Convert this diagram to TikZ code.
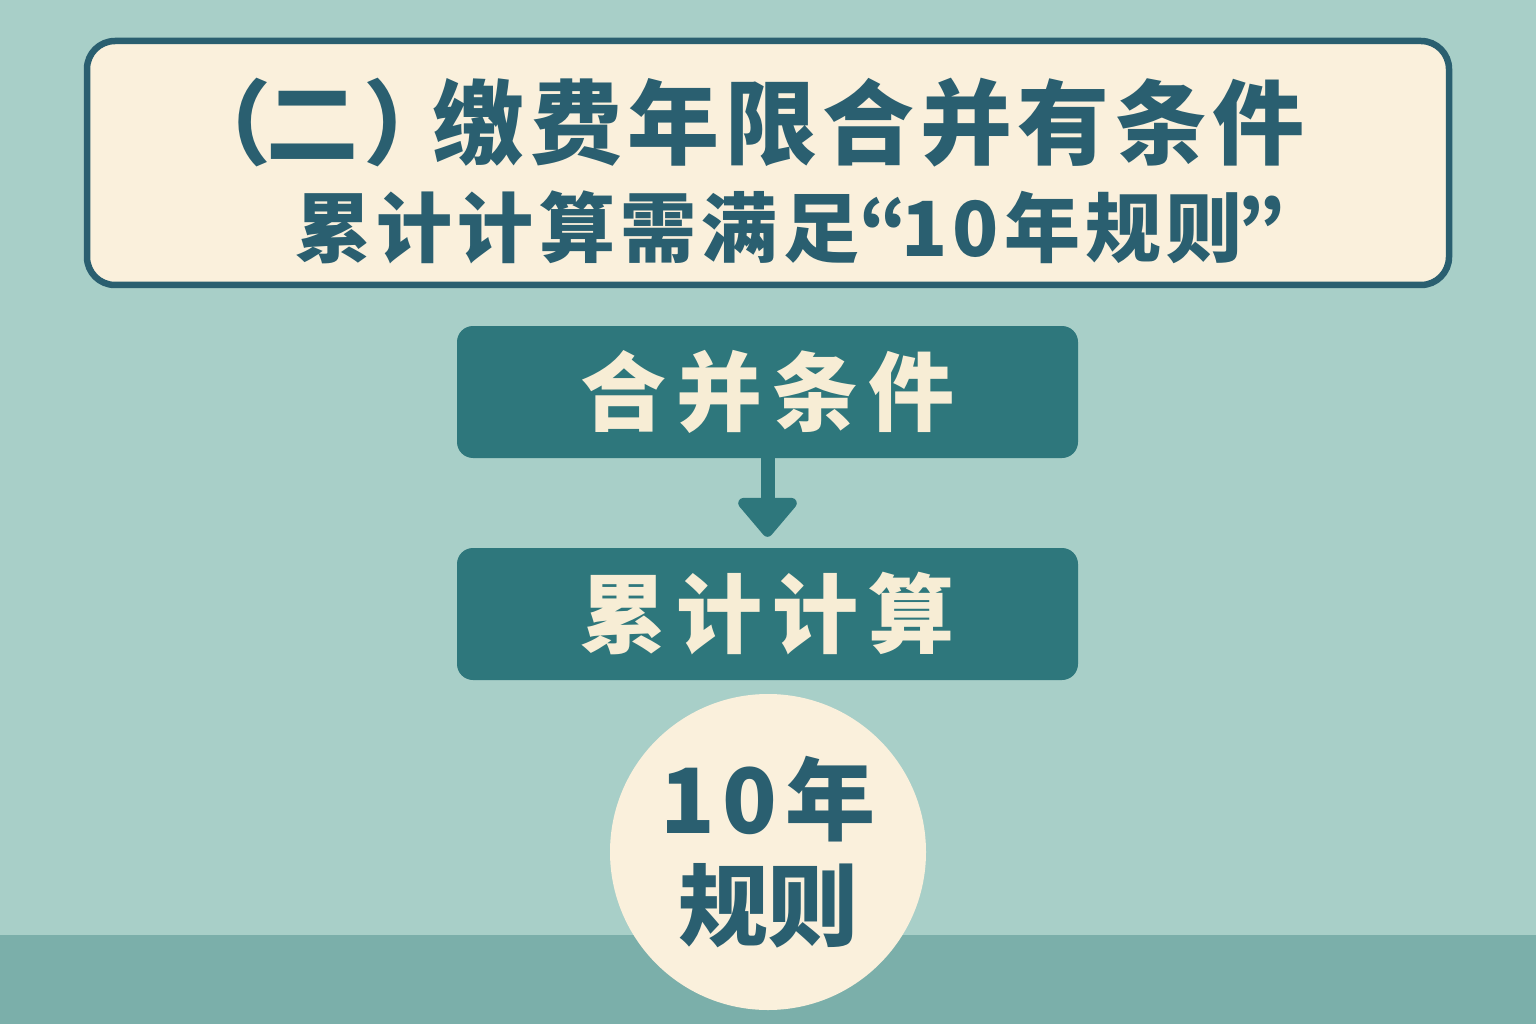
\documentclass[tikz,border=0pt]{standalone}
\usepackage{fontspec}
\setmainfont{Noto Sans CJK SC}
\newfontfamily\quotefont{Noto Sans CJK JP}
\usetikzlibrary{arrows.meta}
\definecolor{bgc}{HTML}{A8CFC8}
\definecolor{bandc}{HTML}{7BAFAA}
\definecolor{darkc}{HTML}{2A5F70}
\definecolor{creamc}{HTML}{FAF0DC}
\definecolor{boxc}{HTML}{2E777C}
\definecolor{boxtxt}{HTML}{F7EDD5}
\tikzset{
  titlebox/.style={draw=darkc, line width=6.5pt, fill=creamc, rounded corners=28pt,
    minimum width=1362pt, minimum height=244pt, inner sep=0pt},
  titletext/.style={text=darkc, inner sep=0pt, anchor=west},
  stepbox/.style={fill=boxc, rounded corners=16pt, minimum width=621pt,
    minimum height=132pt, inner sep=0pt, text=boxtxt,
    font=\bfseries\fontsize{86}{100}\selectfont\addfontfeature{LetterSpace=12}},
  rulecircle/.style={circle, fill=creamc, minimum size=316pt, inner sep=0pt,
    text=darkc, align=center, font=\bfseries\fontsize{90}{106}\selectfont},
  flowarrow/.style={draw=boxc, line width=14pt, -{Triangle[width=68pt,length=42pt,round]}}
}
\begin{document}
\begin{tikzpicture}[x=1pt,y=-1pt]
\useasboundingbox (0,0) rectangle (1536,1024);
\fill[bgc] (0,0) rectangle (1536,1024);
\fill[bandc] (0,935) rectangle (1536,1024);
\node[titlebox] (title) at (768,163) {};
\node[titletext, font=\bfseries\fontsize{92}{100}\selectfont\addfontfeature{LetterSpace=6}] (t1) at (179,123)
  {（\kern-5pt 二）\kern-23pt 缴费年限合并有条件};
\node[titletext, font=\bfseries\fontsize{76}{90}\selectfont\addfontfeature{LetterSpace=7}] (t2) at (295,227)
  {累计计算需满足{\quotefont “}\kern-6pt 10年规则\kern-5pt{\quotefont ”}};
\node[stepbox] (b1) at (767.5,392) {合并条件};
\node[stepbox] (b2) at (767.5,614) {累计计算};
\draw[flowarrow] (b1.south) -- ([yshift=11pt]b2.north);
\node[rulecircle] (c) at (768,852) {{\addfontfeature{LetterSpace=8}10年}\\规则};
\end{tikzpicture}
\end{document}
